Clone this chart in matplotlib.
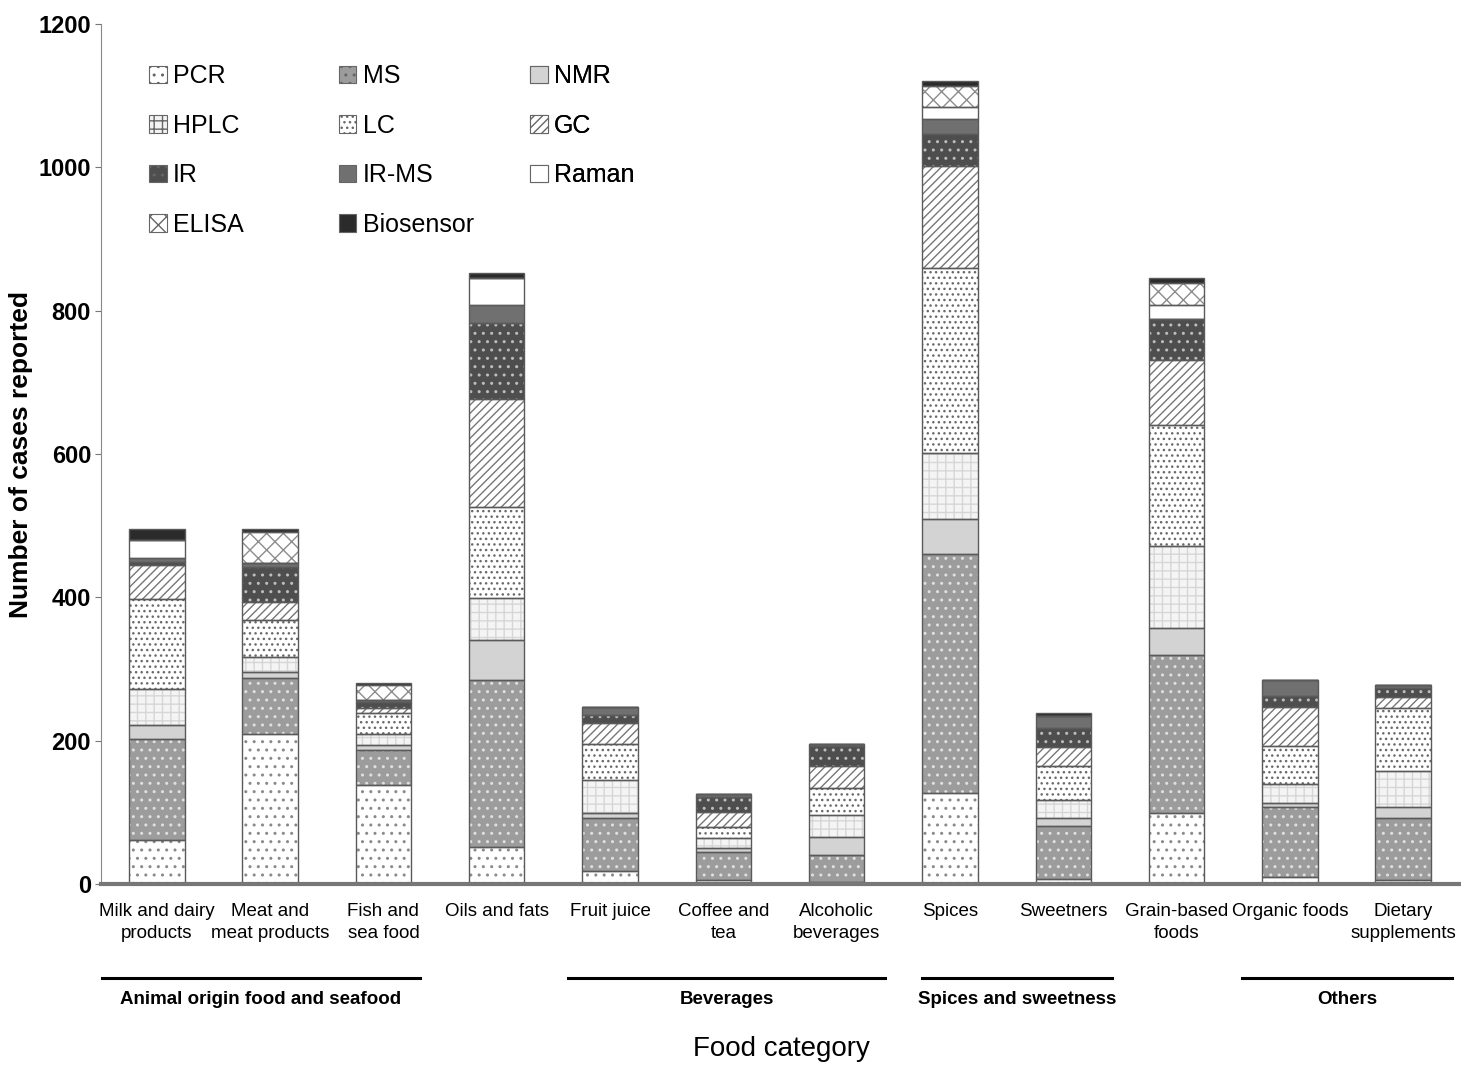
import matplotlib
matplotlib.use("Agg")
import matplotlib.pyplot as plt
from matplotlib.patches import Patch
from matplotlib.transforms import blended_transform_factory
import numpy as np

categories = ["Milk and dairy\nproducts", "Meat and\nmeat products", "Fish and\nsea food",
              "Oils and fats", "Fruit juice", "Coffee and\ntea", "Alcoholic\nbeverages",
              "Spices", "Sweetners", "Grain-based\nfoods", "Organic foods", "Dietary\nsupplements"]

methods = ["PCR", "MS", "NMR", "HPLC", "LC", "GC", "IR", "IR-MS", "Raman", "ELISA", "Biosensor"]

pcr       = [62, 210, 138, 52, 18, 6, 3, 127, 7, 99, 10, 5]
ms        = [140, 77, 49, 233, 74, 39, 37, 333, 74, 221, 98, 87]
nmr       = [20, 9, 7, 55, 7, 5, 26, 49, 11, 37, 5, 15]
hplc      = [50, 21, 16, 59, 46, 14, 30, 92, 25, 115, 27, 50]
lc        = [125, 52, 28, 127, 51, 16, 38, 259, 48, 168, 53, 88]
gc        = [48, 25, 8, 151, 28, 21, 30, 142, 26, 91, 54, 16]
ir        = [5, 49, 8, 106, 12, 21, 28, 44, 27, 57, 15, 12]
ir_ms     = [5, 5, 3, 25, 11, 3, 4, 21, 16, 0, 22, 5]
raman     = [25, 0, 0, 38, 0, 0, 0, 17, 0, 20, 0, 0]
elisa     = [0, 43, 20, 0, 0, 0, 0, 29, 0, 31, 0, 0]
biosensor = [15, 4, 4, 6, 0, 0, 0, 7, 4, 7, 0, 0]

series = [pcr, ms, nmr, hplc, lc, gc, ir, ir_ms, raman, elisa, biosensor]

groups = ["Animal origin food and seafood", "Beverages", "Spices and sweetness", "Others"]
group_spans = [(-0.48, 2.32), (3.63, 6.43), (6.75, 8.43), (9.58, 11.43)]

# face colour, hatch, hatch colour
styles = [
    ("white",   "..",   "#8a8a8a"),
    ("#9c9c9c", "..",   "#e0e0e0"),
    ("#d3d3d3", "",     "#d3d3d3"),
    ("#f4f4f4", "++",   "#d6d6d6"),
    ("white",   "...",  "#6a6a6a"),
    ("white",   "////", "#777777"),
    ("#4e4e4e", "..",   "#bdbdbd"),
    ("#707070", "",     "#707070"),
    ("white",   "",     "white"),
    ("white",   "xx",   "#8c8c8c"),
    ("#2b2b2b", "",     "#2b2b2b"),
]

plt.rcParams["font.family"] = ["Liberation Sans", "DejaVu Sans"]
plt.rcParams["hatch.linewidth"] = 1.0

fig = plt.figure(figsize=(14.61, 10.67), dpi=100)
ax = fig.add_axes([0.069, 0.1715, 0.931, 0.806])

x = np.arange(len(categories))
width = 0.49
bottom = np.zeros(len(categories))
for vals, (fc, h, hc) in zip(series, styles):
    vals = np.array(vals, dtype=float)
    ax.bar(x, vals, width, bottom=bottom, color=fc, edgecolor=hc, hatch=h, linewidth=0, zorder=2)
    ax.bar(x, vals, width, bottom=bottom, fill=False, edgecolor="#5a5a5a", linewidth=1.0, zorder=3)
    bottom += vals

ax.set_xlim(-0.494, 11.51)
ax.set_ylim(0, 1200)
ax.set_yticks(range(0, 1201, 200))
ax.set_yticklabels([str(v) for v in range(0, 1201, 200)], fontsize=17, fontweight="bold")
ax.set_xticks(x)
ax.set_xticklabels(categories, fontsize=13.5, linespacing=1.35)
ax.tick_params(axis="x", length=0, pad=14)
ax.tick_params(axis="y", length=4, color="#777777", pad=3)
for s in ["top", "right"]:
    ax.spines[s].set_visible(False)
ax.spines["left"].set_color("#888888")
ax.spines["bottom"].set_color("#777777")
ax.spines["bottom"].set_linewidth(3)
ax.spines["bottom"].set_zorder(4)

ax.set_ylabel("Number of cases reported", fontsize=19, fontweight="bold", labelpad=4)

trans = blended_transform_factory(ax.transData, ax.transAxes)
for name, (x0, x1) in zip(groups, group_spans):
    ax.plot([x0, x1], [-0.109, -0.109], color="black", lw=2.2, transform=trans, clip_on=False)
    ax.text((x0 + x1) / 2, -0.124, name, transform=trans, ha="center", va="top",
            fontsize=13.5, fontweight="bold")

fig.text(0.535, 0.005, "Food category", ha="center", va="bottom", fontsize=20)

handles = [Patch(facecolor=fc, edgecolor="#666666", hatch=h, linewidth=0.8) for fc, h, hc in styles]
columns = [[0, 3, 6, 9], [1, 4, 7, 10], [2, 5, 8]]
col_x = [0.102, 0.232, 0.363]
for idx, cx in zip(columns, col_x):
    leg = ax.legend([handles[i] for i in idx], [methods[i] for i in idx], ncol=1,
                    loc="upper left", bbox_to_anchor=(cx, 0.940), bbox_transform=fig.transFigure,
                    frameon=False, fontsize=18, handlelength=0.7, handleheight=0.7,
                    handletextpad=0.25, labelspacing=1.02, borderpad=0, borderaxespad=0)
    for p, i in zip(leg.get_patches(), idx):
        p.set_hatch(styles[i][1])
    ax.add_artist(leg)

fig.savefig("out.png", dpi=100)
